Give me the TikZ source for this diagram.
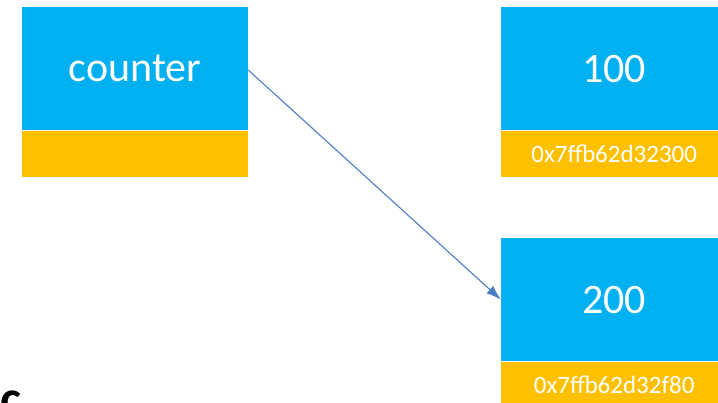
\documentclass[tikz,border=0pt]{standalone}
\usepackage{fontspec}
\setmainfont{Carlito}
\usetikzlibrary{arrows.meta}
\definecolor{boxblue}{HTML}{00B0F0}
\definecolor{boxyellow}{HTML}{FFC000}
\definecolor{arrowblue}{HTML}{4A7EC4}
\begin{document}
\begin{tikzpicture}[x=1pt,y=-1pt,
  valbox/.style={fill=boxblue, draw=none, inner sep=0pt, minimum width=226pt, minimum height=123pt, anchor=north west, text=white, font=\fontsize{42}{42}\selectfont},
  addrbox/.style={fill=boxyellow, draw=none, inner sep=0pt, minimum width=226pt, minimum height=46pt, anchor=north west, text=white, font=\fontsize{25}{25}\selectfont},
  link/.style={draw=arrowblue, line width=1.1pt, -{Latex[length=15pt,width=10pt]}}]
\useasboundingbox (0,0) rectangle (718,403);
\fill[white] (0,0) rectangle (718,403);
\node[valbox] (c) at (22,7) {counter};
\node[addrbox] (ca) at (c.south west) {};
\node[valbox] (v1) at (501,7) {100};
\node[addrbox] (a1) at (v1.south west) {0x7ffb62d32300};
\node[valbox] (v2) at (501,238) {200};
\node[addrbox] (a2) at (v2.south west) {\raisebox{-3pt}{0x7ffb62d32f80}};
\draw[link] ([yshift=-1.5pt]c.east) -- (v2.west);
\node[anchor=base west, inner sep=0pt, font=\fontsize{50}{50}\selectfont\bfseries] (frag) at (0,416) {c};
\end{tikzpicture}
\end{document}
